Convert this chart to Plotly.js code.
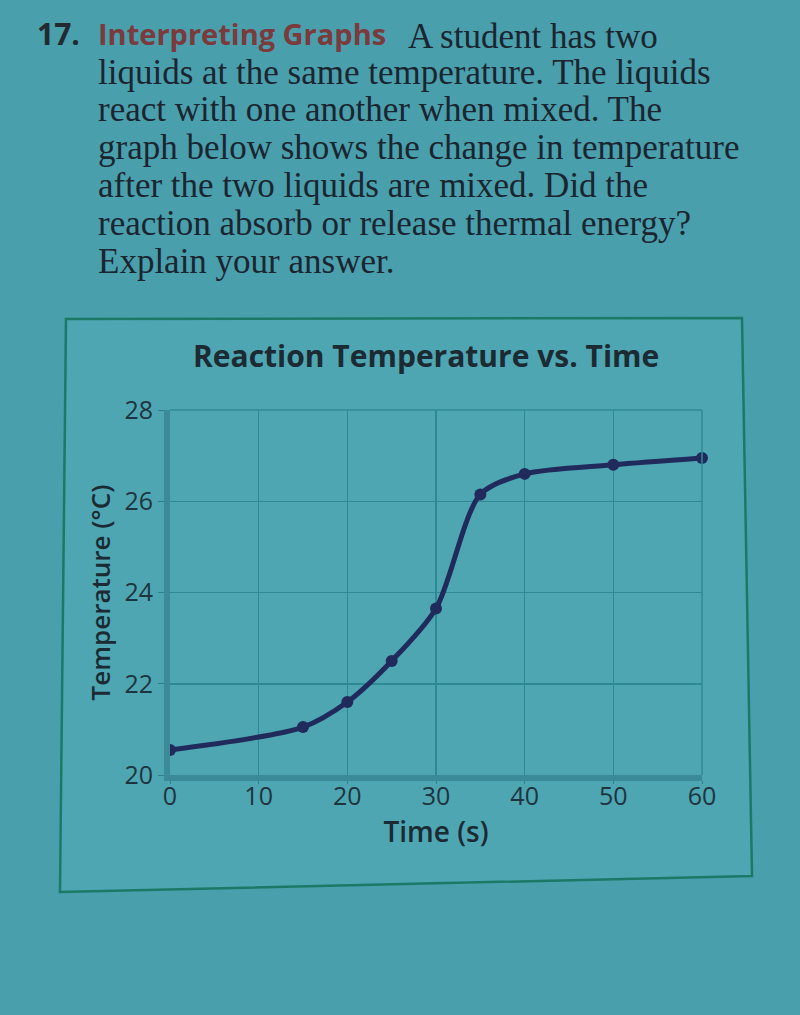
<!DOCTYPE html>
<html>
<head>
<meta charset="utf-8">
<script src="https://cdn.plot.ly/plotly-3.0.1.min.js"></script>
<style>html,body{margin:0;padding:0;background:#4a9fac;}#chart{width:800px;height:1015px;}</style>
</head>
<body>
<div id="chart"></div>
<script>
// ---- data ----
const timeSeconds = [0, 15, 20, 25, 30, 35, 40, 50, 60];
const temperatureC = [20.55, 21.05, 21.6, 22.5, 23.65, 26.15, 26.6, 26.8, 26.95];
const xTickValues = [0, 10, 20, 30, 40, 50, 60];
const yTickValues = [20, 22, 24, 26, 28];
const chartTitle = "Reaction Temperature vs. Time";
const xAxisTitle = "Time (s)";
const yAxisTitle = "Temperature (°C)";
const questionNumber = "17.";
const questionHeading = "Interpreting Graphs";
const questionLines = [
  "A student has two",
  "liquids at the same temperature. The liquids",
  "react with one another when mixed. The",
  "graph below shows the change in temperature",
  "after the two liquids are mixed. Did the",
  "reaction absorb or release thermal energy?",
  "Explain your answer."
];

// ---- layout helpers (pixel -> paper) ----
const L = 170, R = 702, T = 410, B = 775, FW = 800, FH = 1015;
const PW = R - L, PH = B - T;
const X = p => (p - L) / PW;
const Y = p => (B - p) / PH;

const ink = "#1b2530";
const serif = "Liberation Serif, Times New Roman, serif";
const sans = "Open Sans, Noto Sans, sans-serif";

const annotations = [];
function txt(text, px, py, opts) {
  annotations.push(Object.assign({
    text: text, x: X(px), y: Y(py), xref: "paper", yref: "paper",
    xanchor: "left", yanchor: "middle", showarrow: false,
    font: {family: serif, size: 35, color: ink}
  }, opts || {}));
}
txt(questionNumber, 35, 34, {font: {family: sans, size: 30, color: "#222a30", weight: 700}});
txt("<b>" + questionHeading + "</b>", 96, 34, {font: {family: sans, size: 29, color: "#7b3a3c"}});
txt(questionLines[0], 406, 36);
const lineY = [36, 72, 109, 147, 185, 223, 261];
for (let i = 1; i < questionLines.length; i++) txt(questionLines[i], 96, lineY[i]);

txt("<b>" + chartTitle + "</b>", 426, 355, {xanchor: "center", font: {family: sans, size: 30, color: "#1c2a33"}});

const trace = {
  x: timeSeconds, y: temperatureC, type: "scatter", mode: "lines+markers",
  line: {color: "#202b5c", width: 5, shape: "spline", smoothing: 0.8},
  marker: {color: "#202b5c", size: 12},
  cliponaxis: false, hoverinfo: "skip"
};

const frame = {
  type: "path", xref: "paper", yref: "paper",
  path: `M ${X(66)} ${Y(319)} L ${X(742)} ${Y(318)} L ${X(752)} ${Y(876)} L ${X(60)} ${Y(892)} Z`,
  line: {color: "#1b7a66", width: 2.5}, fillcolor: "#4ea6b2", layer: "below"
};

const layout = {
  width: FW, height: FH,
  margin: {l: L, r: FW - R, t: T, b: FH - B, pad: 0},
  paper_bgcolor: "#4a9fac", plot_bgcolor: "rgba(0,0,0,0)",
  showlegend: false,
  xaxis: {
    range: [0, 60], tickvals: xTickValues, ticks: "outside", ticklen: 3, tickcolor: "#2e7f8c",
    ticklabelstandoff: -9,
    showgrid: true, gridcolor: "#2f8896", gridwidth: 1.5,
    showline: true, linecolor: "#3a8b97", linewidth: 6,
    zeroline: false, tickfont: {family: sans, size: 25, color: "#1e3440"},
    title: {text: xAxisTitle, font: {family: sans, size: 28, color: "#1c2a33", weight: 600}, standoff: 12},
    fixedrange: true
  },
  yaxis: {
    range: [20, 28], tickvals: yTickValues, ticks: "outside", ticklen: 6, tickcolor: "#2e7f8c",
    showgrid: true, gridcolor: "#2f8896", gridwidth: 1.5,
    showline: true, linecolor: "#3a8b97", linewidth: 6,
    zeroline: false, tickfont: {family: sans, size: 25, color: "#1e3440"},
    title: {text: yAxisTitle, font: {family: sans, size: 26, color: "#1c2a33", weight: 600}, standoff: 8},
    fixedrange: true
  },
  shapes: [
    frame,
    {type: "line", xref: "paper", yref: "paper", x0: 0, x1: 1, y0: 1, y1: 1, line: {color: "#2f8896", width: 1.5}},
    {type: "line", xref: "paper", yref: "paper", x0: 1, x1: 1, y0: 0, y1: 1, line: {color: "#2f8896", width: 1.5}}
  ],
  annotations: annotations
};

Plotly.newPlot("chart", [trace], layout, {displayModeBar: false, staticPlot: true});
</script>
</body>
</html>
